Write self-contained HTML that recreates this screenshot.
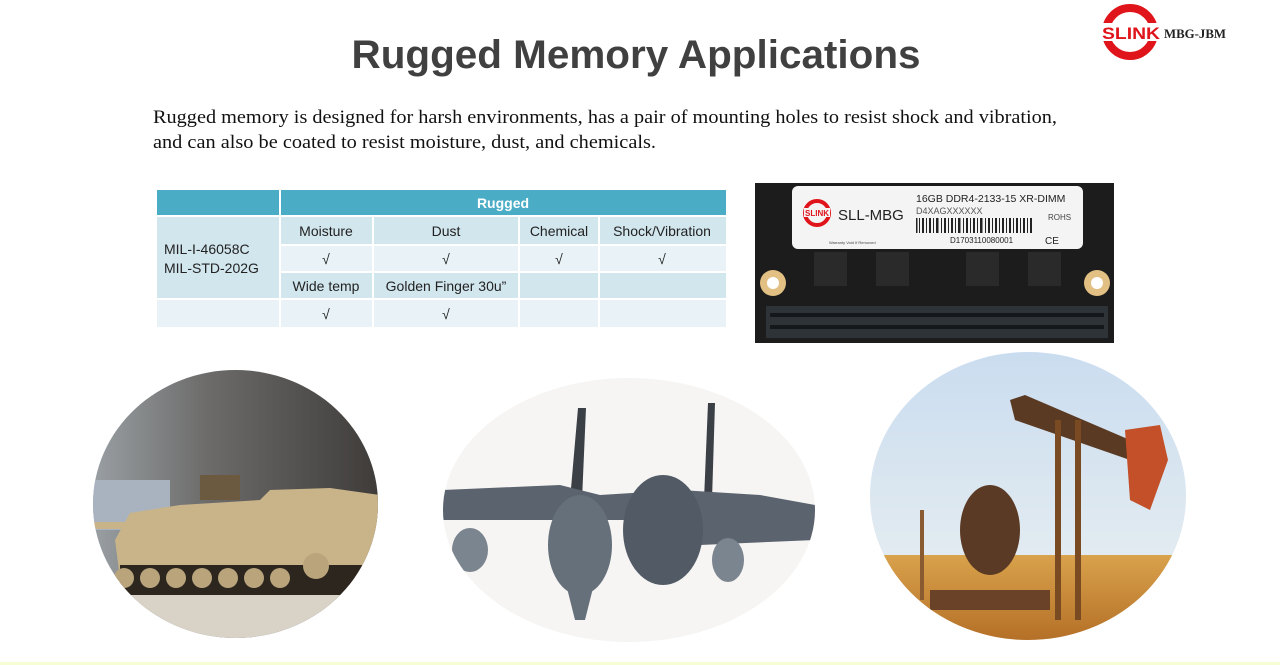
<!DOCTYPE html>
<html><head><meta charset="utf-8"><style>
html,body{margin:0;padding:0;background:#fff;}
svg{display:block}
</style></head><body>
<svg width="1280" height="665" viewBox="0 0 1280 665" xmlns="http://www.w3.org/2000/svg">
<defs>
<clipPath id="c1"><ellipse cx="235.5" cy="504" rx="142.5" ry="134"/></clipPath>
<clipPath id="c2"><ellipse cx="629" cy="510" rx="186" ry="132"/></clipPath>
<clipPath id="c3"><ellipse cx="1028" cy="496" rx="158" ry="144"/></clipPath>
<linearGradient id="smoke" x1="0" y1="0" x2="1" y2="0"><stop offset="0" stop-color="#9aa0a4"/><stop offset="0.4" stop-color="#6c6b6a"/><stop offset="1" stop-color="#3d3a38"/></linearGradient>
<linearGradient id="sky" x1="0" y1="0" x2="0" y2="1"><stop offset="0" stop-color="#c9dcef"/><stop offset="1" stop-color="#eef2f2"/></linearGradient>
<linearGradient id="sand" x1="0" y1="0" x2="0" y2="1"><stop offset="0" stop-color="#d9a24c"/><stop offset="1" stop-color="#b06a22"/></linearGradient>
</defs>

<text x="636" y="68" text-anchor="middle" font-family="Liberation Sans, sans-serif" font-weight="bold" font-size="40" fill="#404040" textLength="569" lengthAdjust="spacingAndGlyphs">Rugged Memory Applications</text>

<circle cx="1130" cy="32" r="24" fill="none" stroke="#e0141b" stroke-width="8"/>
<rect x="1101" y="23" width="60" height="18" fill="#fff"/>
<text x="1102" y="39" font-family="Liberation Sans, sans-serif" font-weight="bold" font-size="17" fill="#e0141b" textLength="58" lengthAdjust="spacingAndGlyphs">SLINK</text>
<text x="1164" y="38" font-family="Liberation Serif, serif" font-weight="bold" font-size="13" fill="#222" textLength="62" lengthAdjust="spacingAndGlyphs">MBG-JBM</text>

<text x="153" y="123" font-family="Liberation Serif, serif" font-size="19" fill="#111" textLength="904" lengthAdjust="spacingAndGlyphs">Rugged memory is designed for harsh environments, has a pair of mounting holes to resist shock and vibration,</text>
<text x="153" y="148" font-family="Liberation Serif, serif" font-size="19" fill="#111" textLength="503" lengthAdjust="spacingAndGlyphs">and can also be coated to resist moisture, dust, and chemicals.</text>

<g font-family="Liberation Sans, sans-serif" font-size="14" fill="#222">
<rect x="157" y="190" width="569" height="26" fill="#4bacc6"/>
<rect x="157" y="216" width="569" height="111" fill="#d2e6ee"/>
<rect x="280" y="245" width="446" height="27" fill="#e9f3f7"/>
<rect x="157" y="299" width="569" height="28" fill="#e9f3f7"/>
<g stroke="#fff" stroke-width="2">
<line x1="280" y1="190" x2="280" y2="327"/>
<line x1="373" y1="216" x2="373" y2="327"/>
<line x1="519" y1="216" x2="519" y2="327"/>
<line x1="599" y1="216" x2="599" y2="327"/>
<line x1="157" y1="216" x2="726" y2="216"/>
<line x1="280" y1="245" x2="726" y2="245"/>
<line x1="280" y1="272" x2="726" y2="272"/>
<line x1="157" y1="299" x2="726" y2="299"/>
</g>
<text x="503" y="208" text-anchor="middle" font-weight="bold" fill="#fff">Rugged</text>
<text x="164" y="254">MIL-I-46058C</text>
<text x="164" y="273">MIL-STD-202G</text>
<text x="326" y="236" text-anchor="middle">Moisture</text>
<text x="446" y="236" text-anchor="middle">Dust</text>
<text x="559" y="236" text-anchor="middle">Chemical</text>
<text x="662" y="236" text-anchor="middle">Shock/Vibration</text>
<text x="326" y="264" text-anchor="middle">√</text>
<text x="446" y="264" text-anchor="middle">√</text>
<text x="559" y="264" text-anchor="middle">√</text>
<text x="662" y="264" text-anchor="middle">√</text>
<text x="326" y="291" text-anchor="middle">Wide temp</text>
<text x="446" y="291" text-anchor="middle">Golden Finger 30u”</text>
<text x="326" y="319" text-anchor="middle">√</text>
<text x="446" y="319" text-anchor="middle">√</text>
</g>

<rect x="755" y="183" width="359" height="160" fill="#1c1c1c"/>
<rect x="792" y="186" width="291" height="63" rx="6" fill="#f4f4f4"/>
<circle cx="817" cy="213" r="12" fill="none" stroke="#e0141b" stroke-width="4"/>
<rect x="804" y="208" width="26" height="9" fill="#f4f4f4"/>
<text x="805" y="216" font-family="Liberation Sans, sans-serif" font-weight="bold" font-size="8" fill="#e0141b">SLINK</text>
<text x="838" y="220" font-family="Liberation Sans, sans-serif" font-size="15" fill="#222">SLL-MBG</text>
<text x="916" y="202" font-family="Liberation Sans, sans-serif" font-size="10.5" fill="#222">16GB DDR4-2133-15 XR-DIMM</text>
<text x="916" y="214" font-family="Liberation Sans, sans-serif" font-size="9" fill="#555">D4XAGXXXXXX</text>
<text x="1048" y="220" font-family="Liberation Sans, sans-serif" font-size="8" fill="#444">ROHS</text>
<g fill="#222">
<rect x="916" y="218" width="1.5" height="15"/><rect x="919" y="218" width="1" height="15"/><rect x="922" y="218" width="2" height="15"/><rect x="926" y="218" width="1" height="15"/><rect x="929" y="218" width="2" height="15"/><rect x="933" y="218" width="1" height="15"/><rect x="936" y="218" width="2.5" height="15"/><rect x="941" y="218" width="1" height="15"/><rect x="944" y="218" width="2" height="15"/><rect x="948" y="218" width="1" height="15"/><rect x="951" y="218" width="2" height="15"/><rect x="955" y="218" width="1" height="15"/><rect x="958" y="218" width="2.5" height="15"/><rect x="963" y="218" width="1" height="15"/><rect x="966" y="218" width="2" height="15"/><rect x="970" y="218" width="1" height="15"/><rect x="973" y="218" width="2" height="15"/><rect x="977" y="218" width="1" height="15"/><rect x="980" y="218" width="2.5" height="15"/><rect x="985" y="218" width="1" height="15"/><rect x="988" y="218" width="2" height="15"/><rect x="992" y="218" width="1" height="15"/><rect x="995" y="218" width="2" height="15"/><rect x="999" y="218" width="1" height="15"/><rect x="1002" y="218" width="2" height="15"/><rect x="1006" y="218" width="1" height="15"/><rect x="1009" y="218" width="2" height="15"/><rect x="1013" y="218" width="1" height="15"/><rect x="1016" y="218" width="2" height="15"/><rect x="1020" y="218" width="1" height="15"/><rect x="1023" y="218" width="2" height="15"/><rect x="1027" y="218" width="1" height="15"/><rect x="1030" y="218" width="2" height="15"/>
</g>
<text x="950" y="243" font-family="Liberation Sans, sans-serif" font-size="8" fill="#222">D1703110080001</text>
<text x="1045" y="244" font-family="Liberation Sans, sans-serif" font-size="10" fill="#222">CE</text>
<text x="829" y="244" font-family="Liberation Sans, sans-serif" font-size="4" fill="#444">Warranty Void If Removed</text>
<g fill="#2a2a2a">
<rect x="814" y="252" width="33" height="34"/><rect x="876" y="252" width="33" height="34"/><rect x="966" y="252" width="33" height="34"/><rect x="1028" y="252" width="33" height="34"/>
</g>
<circle cx="773" cy="283" r="13" fill="#e2c084"/><circle cx="773" cy="283" r="6" fill="#fff"/>
<circle cx="1097" cy="283" r="13" fill="#e2c084"/><circle cx="1097" cy="283" r="6" fill="#fff"/>
<rect x="766" y="306" width="342" height="32" fill="#2e3338"/>
<rect x="770" y="313" width="334" height="4" fill="#15181b"/>
<rect x="770" y="325" width="334" height="4" fill="#15181b"/>

<g clip-path="url(#c1)">
<rect x="90" y="365" width="295" height="280" fill="url(#smoke)"/>
<rect x="90" y="480" width="80" height="50" fill="#a9b3bf"/>
<rect x="90" y="590" width="295" height="55" fill="#d8d2c7"/>
<polygon points="130,513 180,505 260,500 270,490 330,488 380,495 380,580 120,578 115,540" fill="#c9b48a"/>
<rect x="90" y="522" width="60" height="7" fill="#c9b48a"/>
<rect x="120" y="565" width="260" height="30" fill="#2c261f"/>
<g fill="#b9a47c"><circle cx="124" cy="578" r="10"/><circle cx="150" cy="578" r="10"/><circle cx="176" cy="578" r="10"/><circle cx="202" cy="578" r="10"/><circle cx="228" cy="578" r="10"/><circle cx="254" cy="578" r="10"/><circle cx="280" cy="578" r="10"/><circle cx="316" cy="566" r="13"/></g>
<rect x="200" y="475" width="40" height="25" fill="#6b5a3f"/>
</g>

<g clip-path="url(#c2)">
<rect x="440" y="375" width="380" height="270" fill="#f6f5f3"/>
<polygon points="578,408 586,408 582,500 570,500" fill="#3b4046"/>
<polygon points="708,403 715,403 712,500 704,500" fill="#3b4046"/>
<polygon points="443,490 560,485 600,495 680,490 760,495 815,505 815,540 700,545 640,520 560,520 443,520" fill="#5a636e"/>
<ellipse cx="580" cy="545" rx="32" ry="50" fill="#66707b"/>
<ellipse cx="663" cy="530" rx="40" ry="55" fill="#525b65"/>
<polygon points="560,560 600,560 585,620 575,620" fill="#66707b"/>
<ellipse cx="470" cy="550" rx="18" ry="22" fill="#7b858f"/>
<ellipse cx="728" cy="560" rx="16" ry="22" fill="#7b858f"/>
</g>

<g clip-path="url(#c3)">
<rect x="865" y="348" width="330" height="300" fill="url(#sky)"/>
<rect x="865" y="555" width="330" height="95" fill="url(#sand)"/>
<polygon points="1010,400 1025,395 1130,440 1130,460 1015,420" fill="#5a3a22"/>
<polygon points="1125,430 1160,425 1168,460 1150,510 1130,500" fill="#c4502a"/>
<rect x="1055" y="420" width="6" height="200" fill="#7a4a22"/>
<rect x="1075" y="420" width="6" height="200" fill="#7a4a22"/>
<ellipse cx="990" cy="530" rx="30" ry="45" fill="#5a3a25"/>
<rect x="920" y="510" width="4" height="90" fill="#8a5a30"/>
<rect x="930" y="590" width="120" height="20" fill="#6a4228"/>
</g>

<rect x="0" y="662" width="1280" height="3" fill="#f6fdd2"/>
</svg>
</body></html>
